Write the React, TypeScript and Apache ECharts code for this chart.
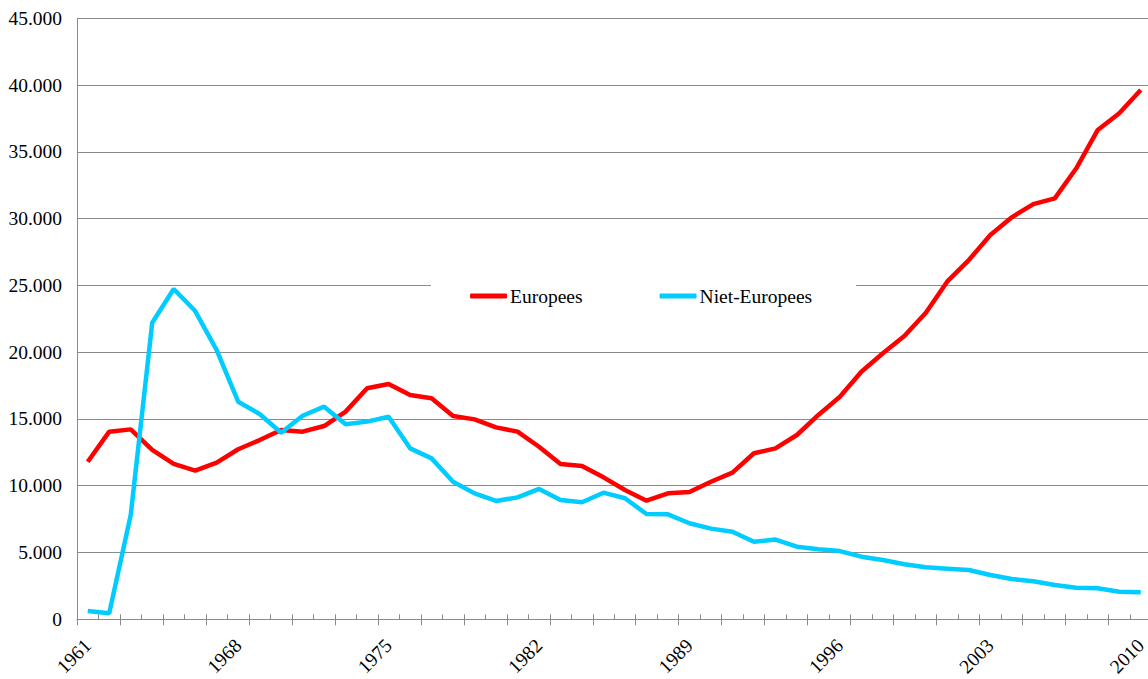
import React, { useEffect, useRef } from "react";
import * as echarts from "echarts";

const years = [
  "1961", "1962", "1963", "1964", "1965", "1966", "1967", "1968", "1969", "1970",
  "1971", "1972", "1973", "1974", "1975", "1976", "1977", "1978", "1979", "1980",
  "1981", "1982", "1983", "1984", "1985", "1986", "1987", "1988", "1989", "1990",
  "1991", "1992", "1993", "1994", "1995", "1996", "1997", "1998", "1999", "2000",
  "2001", "2002", "2003", "2004", "2005", "2006", "2007", "2008", "2009", "2010",
];

const europees = [
  11800, 14050, 14220, 12680, 11630, 11130, 11730, 12730, 13420, 14170,
  14050, 14470, 15550, 17300, 17620, 16790, 16550, 15220, 14970, 14370,
  14050, 12920, 11630, 11480, 10630, 9680, 8880, 9430, 9530, 10300,
  10980, 12430, 12800, 13800, 15300, 16670, 18540, 19920, 21210, 22960,
  25300, 26900, 28770, 30100, 31090, 31520, 33770, 36640, 37890, 39630,
];

const nietEuropees = [
  620, 450, 7810, 22200, 24730, 23080, 20160, 16290, 15370, 13970,
  15240, 15920, 14600, 14800, 15170, 12800, 12050, 10300, 9430, 8860,
  9130, 9760, 8930, 8760, 9480, 9060, 7880, 7860, 7190, 6790,
  6560, 5810, 5970, 5440, 5240, 5110, 4690, 4440, 4120, 3890,
  3790, 3690, 3320, 3020, 2850, 2570, 2370, 2320, 2070, 2020,
];

const seriesNames = ["Europees", "Niet-Europees"];

const FONT = "Times New Roman, Liberation Serif, serif";
const GRAY = "#8a8a8a";

function fmt(v: number): string {
  if (v === 0) return "0";
  const s = String(Math.round(v));
  return s.replace(/\B(?=(\d{3})+(?!\d))/g, ".");
}

export default function App() {
  const ref = useRef<HTMLDivElement>(null);
  useEffect(() => {
    if (!ref.current) return;
    const chart = echarts.init(ref.current, null, { renderer: "svg" });
    chart.setOption({
      animation: false,
      backgroundColor: "#ffffff",
      textStyle: { fontFamily: FONT },
      grid: {
        left: 77,
        top: 18.3,
        width: 1074.5,
        bottom: 59.7,
        containLabel: false,
        outerBoundsMode: "none",
      },
      legend: {
        data: seriesNames,
        left: 431,
        top: 278,
        orient: "horizontal",
        backgroundColor: "#ffffff",
        padding: [8, 44, 8, 39],
        itemGap: 77,
        itemWidth: 37,
        itemHeight: 5,
        icon: "roundRect",
        textStyle: { fontFamily: FONT, fontSize: 19.5, color: "#000", padding: [0, 0, 0, -2] },
      },
      xAxis: [
        {
          type: "category",
          data: years,
          boundaryGap: true,
          position: "bottom",
          axisLine: { show: true, lineStyle: { color: GRAY, width: 1 } },
          axisTick: { show: true, interval: 1, length: 6, inside: false, lineStyle: { color: GRAY } },
          axisLabel: {
            interval: 6,
            rotate: 45,
            margin: 23,
            fontFamily: FONT,
            fontSize: 19.5,
            color: "#000",
          },
          splitLine: { show: false },
        },
        {
          type: "category",
          data: years,
          boundaryGap: true,
          position: "bottom",
          axisLine: { show: false },
          axisTick: { show: true, interval: 0, length: 5, inside: true, lineStyle: { color: GRAY } },
          axisLabel: { show: false },
          splitLine: { show: false },
        },
      ],
      yAxis: {
        type: "value",
        min: 0,
        max: 45000,
        interval: 5000,
        axisLine: { show: true, lineStyle: { color: GRAY, width: 1 } },
        axisTick: { show: false },
        axisLabel: {
          formatter: (v: number) => fmt(v),
          margin: 15,
          fontFamily: FONT,
          fontSize: 19.5,
          color: "#000",
        },
        splitLine: { show: true, lineStyle: { color: GRAY, width: 1 } },
      },
      series: [
        {
          name: seriesNames[0],
          type: "line",
          data: europees,
          xAxisIndex: 0,
          showSymbol: false,
          symbol: "none",
          lineStyle: { color: "#ff0000", width: 4.5 },
          itemStyle: { color: "#ff0000" },
          z: 3,
        },
        {
          name: seriesNames[1],
          type: "line",
          data: nietEuropees,
          xAxisIndex: 0,
          showSymbol: false,
          symbol: "none",
          lineStyle: { color: "#00ccff", width: 4.5 },
          itemStyle: { color: "#00ccff" },
          z: 4,
        },
      ],
    });
    return () => chart.dispose();
  }, []);
  return (
    <div
      ref={ref}
      style={{ position: "absolute", left: 0, top: 0, width: 1148, height: 679, overflow: "hidden" }}
    />
  );
}
